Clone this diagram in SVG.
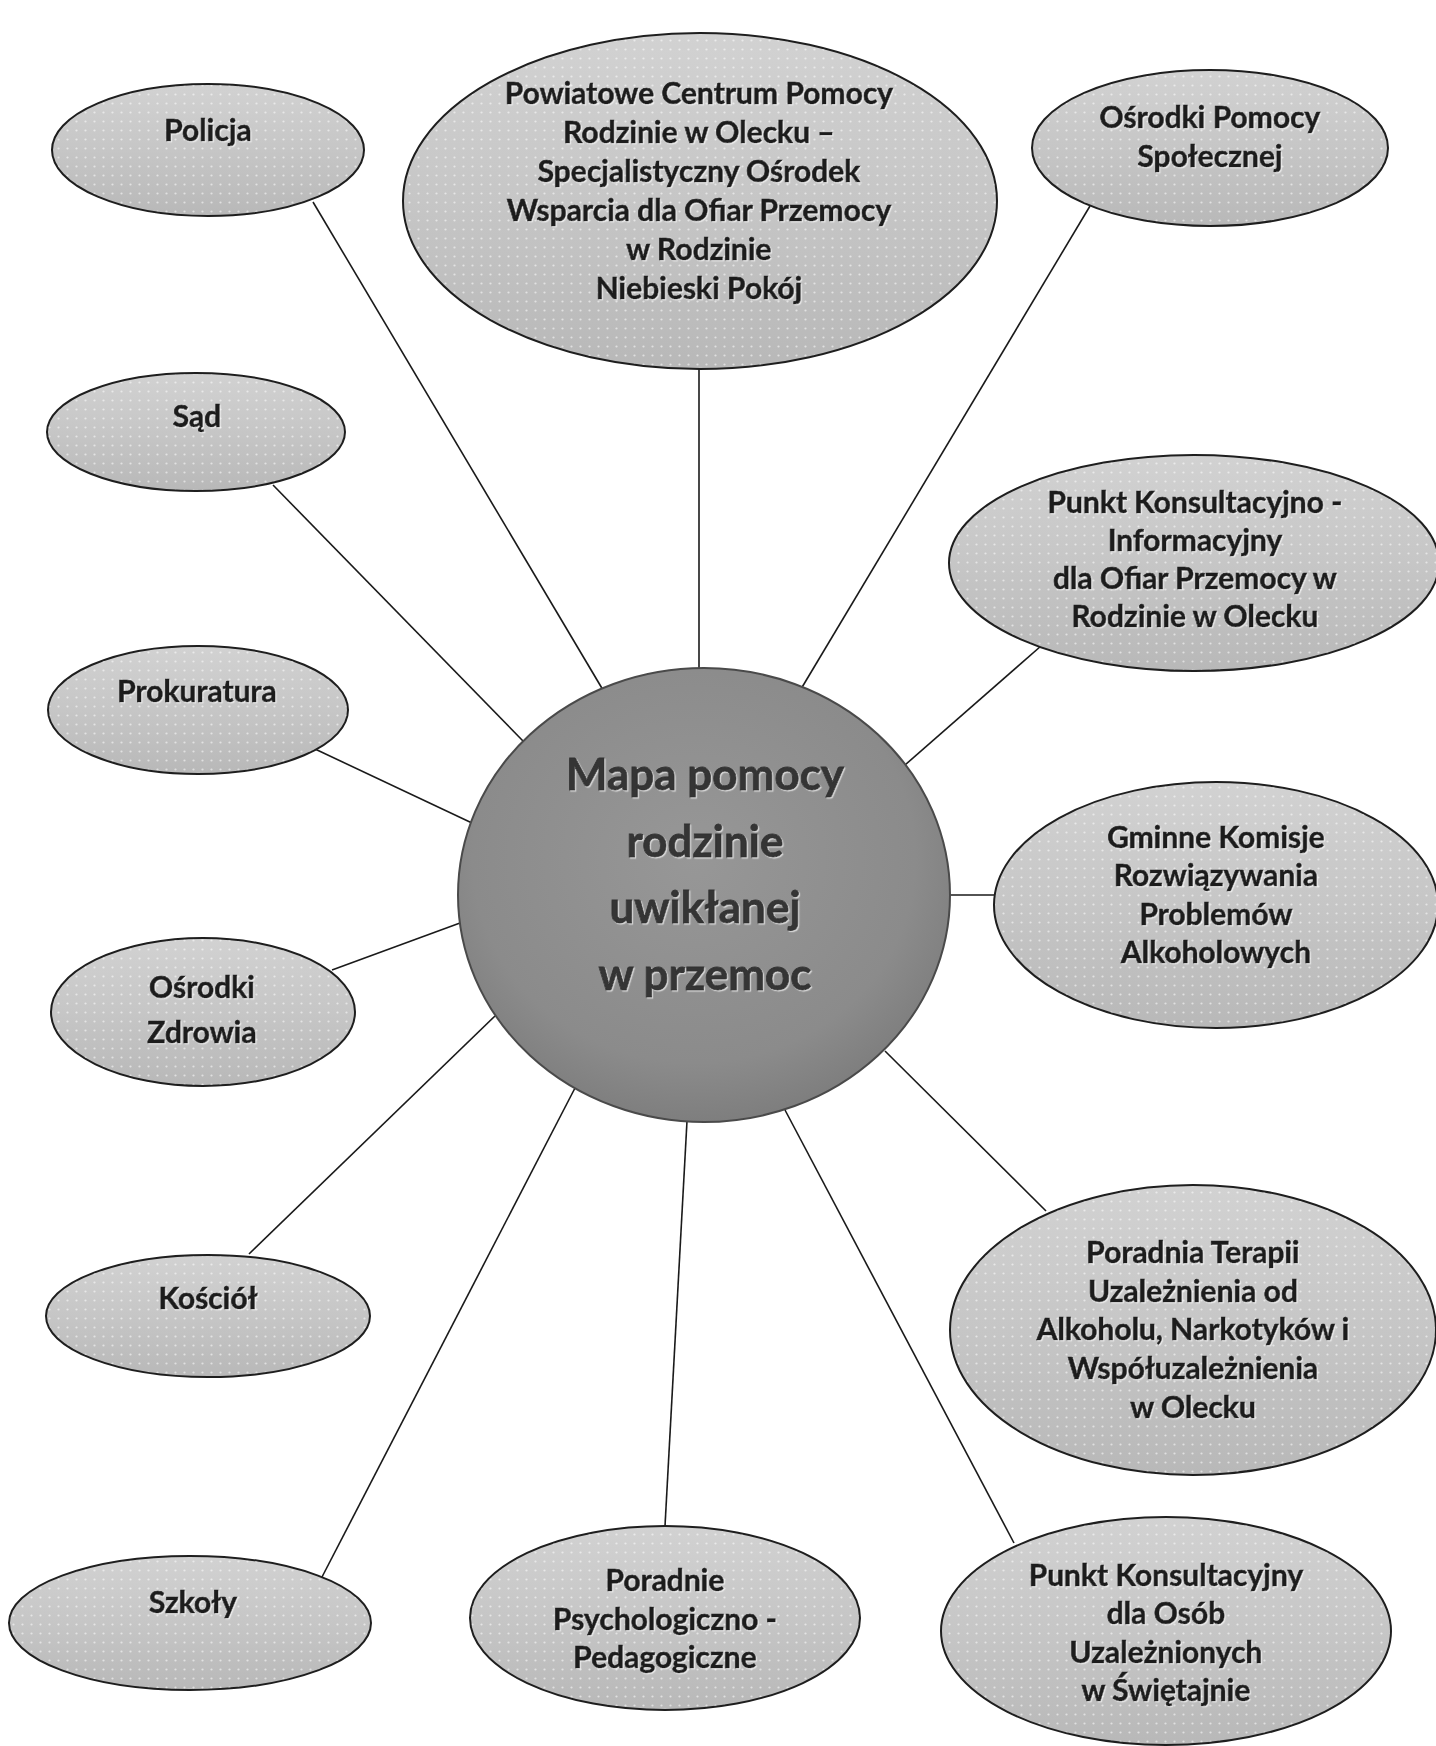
<svg xmlns="http://www.w3.org/2000/svg" width="1436" height="1746" viewBox="0 0 1436 1746">
<defs>
<linearGradient id="nodeFill" x1="0" y1="0" x2="0" y2="1">
<stop offset="0" stop-color="#d2d2d2"/>
<stop offset="0.5" stop-color="#c6c6c6"/>
<stop offset="1" stop-color="#b8b8b8"/>
</linearGradient>
<radialGradient id="hubFill" cx="0.48" cy="0.42" r="0.6">
<stop offset="0" stop-color="#979797"/>
<stop offset="0.75" stop-color="#8b8b8b"/>
<stop offset="1" stop-color="#7c7c7c"/>
</radialGradient>
<pattern id="dots" width="9" height="9" patternUnits="userSpaceOnUse">
<circle cx="4.5" cy="4.5" r="1.1" fill="#ffffff" fill-opacity="0.55"/>
</pattern>
<filter id="glow" x="-5%" y="-20%" width="110%" height="140%">
<feDropShadow dx="1.2" dy="1.2" stdDeviation="0.6" flood-color="#ffffff" flood-opacity="0.6"/>
</filter>
</defs>
<style>
.n{fill:url(#nodeFill);stroke:#1e1e1e;stroke-width:2}
.d{fill:url(#dots);stroke:none}
.t{font-family:Lato,"Liberation Sans",sans-serif;font-weight:700;font-size:30px;fill:#1c1c1c;stroke:#1c1c1c;stroke-width:0.6;text-anchor:middle;filter:url(#glow)}
.hub{fill:url(#hubFill);stroke:#4a4a4a;stroke-width:2}
.ht{font-family:Lato,"Liberation Sans",sans-serif;font-weight:700;font-size:44px;fill:#343434;stroke:#343434;stroke-width:0.8;text-anchor:middle;filter:url(#glow)}
.c{stroke:#1a1a1a;stroke-width:1.6;fill:none}
</style>
<rect width="1436" height="1746" fill="#ffffff"/>
<g id="connectors">
<line class="c" x1="313" y1="202" x2="603" y2="690"/>
<line class="c" x1="699" y1="369" x2="699" y2="669"/>
<line class="c" x1="1090" y1="206" x2="801" y2="689"/>
<line class="c" x1="273" y1="485" x2="523" y2="741"/>
<line class="c" x1="1041" y1="646" x2="905" y2="765"/>
<line class="c" x1="315" y1="749" x2="472" y2="823"/>
<line class="c" x1="950" y1="895" x2="995" y2="895"/>
<line class="c" x1="332" y1="970" x2="460" y2="923"/>
<line class="c" x1="249" y1="1254" x2="495" y2="1016"/>
<line class="c" x1="885" y1="1051" x2="1046" y2="1211"/>
<line class="c" x1="322" y1="1577" x2="575" y2="1088"/>
<line class="c" x1="665" y1="1526" x2="687" y2="1121"/>
<line class="c" x1="1014" y1="1543" x2="785" y2="1110"/>
</g>
<g id="hub">
<ellipse class="hub" cx="704" cy="895" rx="246" ry="227"/>
<text class="ht"><tspan x="705" y="790">Mapa pomocy</tspan><tspan x="705" y="857">rodzinie</tspan><tspan x="705" y="923">uwikłanej</tspan><tspan x="705" y="990">w przemoc</tspan></text>
</g>
<g id="policja">
<ellipse class="n" cx="208" cy="150" rx="156" ry="66"/>
<ellipse class="d" cx="208" cy="150" rx="155" ry="65"/>
<text class="t" x="208" y="141">Policja</text>
</g>
<g id="pcpr">
<ellipse class="n" cx="700" cy="201" rx="297" ry="168"/>
<ellipse class="d" cx="700" cy="201" rx="296" ry="167"/>
<text class="t"><tspan x="699" y="104">Powiatowe Centrum Pomocy</tspan><tspan x="699" y="143">Rodzinie w Olecku –</tspan><tspan x="699" y="182">Specjalistyczny Ośrodek</tspan><tspan x="699" y="221">Wsparcia dla Ofiar Przemocy</tspan><tspan x="699" y="260">w Rodzinie</tspan><tspan x="699" y="299">Niebieski Pokój</tspan></text>
</g>
<g id="ops">
<ellipse class="n" cx="1210" cy="148" rx="178" ry="78"/>
<ellipse class="d" cx="1210" cy="148" rx="177" ry="77"/>
<text class="t"><tspan x="1210" y="128">Ośrodki Pomocy</tspan><tspan x="1210" y="167">Społecznej</tspan></text>
</g>
<g id="sad">
<ellipse class="n" cx="196" cy="432" rx="149" ry="59"/>
<ellipse class="d" cx="196" cy="432" rx="148" ry="58"/>
<text class="t" x="197" y="427">Sąd</text>
</g>
<g id="punkt-informacyjny">
<ellipse class="n" cx="1194" cy="563" rx="245" ry="108"/>
<ellipse class="d" cx="1194" cy="563" rx="244" ry="107"/>
<text class="t"><tspan x="1195" y="513">Punkt Konsultacyjno -</tspan><tspan x="1195" y="551">Informacyjny</tspan><tspan x="1195" y="589">dla Ofiar Przemocy w</tspan><tspan x="1195" y="627">Rodzinie w Olecku</tspan></text>
</g>
<g id="prokuratura">
<ellipse class="n" cx="198" cy="710" rx="150" ry="64"/>
<ellipse class="d" cx="198" cy="710" rx="149" ry="63"/>
<text class="t" x="197" y="702">Prokuratura</text>
</g>
<g id="gminne">
<ellipse class="n" cx="1216" cy="905" rx="222" ry="123"/>
<ellipse class="d" cx="1216" cy="905" rx="221" ry="122"/>
<text class="t"><tspan x="1216" y="848">Gminne Komisje</tspan><tspan x="1216" y="886">Rozwiązywania</tspan><tspan x="1216" y="925">Problemów</tspan><tspan x="1216" y="963">Alkoholowych</tspan></text>
</g>
<g id="osrodki-zdrowia">
<ellipse class="n" cx="203" cy="1012" rx="152" ry="74"/>
<ellipse class="d" cx="203" cy="1012" rx="151" ry="73"/>
<text class="t"><tspan x="202" y="998">Ośrodki</tspan><tspan x="202" y="1043">Zdrowia</tspan></text>
</g>
<g id="kosciol">
<ellipse class="n" cx="208" cy="1316" rx="162" ry="61"/>
<ellipse class="d" cx="208" cy="1316" rx="161" ry="60"/>
<text class="t" x="208" y="1309">Kościół</text>
</g>
<g id="poradnia-terapii">
<ellipse class="n" cx="1193" cy="1330" rx="243" ry="145"/>
<ellipse class="d" cx="1193" cy="1330" rx="242" ry="144"/>
<text class="t"><tspan x="1193" y="1263">Poradnia Terapii</tspan><tspan x="1193" y="1302">Uzależnienia od</tspan><tspan x="1193" y="1340">Alkoholu, Narkotyków i</tspan><tspan x="1193" y="1379">Współuzależnienia</tspan><tspan x="1193" y="1418">w Olecku</tspan></text>
</g>
<g id="szkoly">
<ellipse class="n" cx="190" cy="1623" rx="181" ry="67"/>
<ellipse class="d" cx="190" cy="1623" rx="180" ry="66"/>
<text class="t" x="193" y="1613">Szkoły</text>
</g>
<g id="poradnie">
<ellipse class="n" cx="665" cy="1618" rx="195" ry="92"/>
<ellipse class="d" cx="665" cy="1618" rx="194" ry="91"/>
<text class="t"><tspan x="665" y="1591">Poradnie</tspan><tspan x="665" y="1630">Psychologiczno -</tspan><tspan x="665" y="1668">Pedagogiczne</tspan></text>
</g>
<g id="punkt-konsultacyjny">
<ellipse class="n" cx="1166" cy="1631" rx="225" ry="114"/>
<ellipse class="d" cx="1166" cy="1631" rx="224" ry="113"/>
<text class="t"><tspan x="1166" y="1586">Punkt Konsultacyjny</tspan><tspan x="1166" y="1624">dla Osób</tspan><tspan x="1166" y="1663">Uzależnionych</tspan><tspan x="1166" y="1701">w Świętajnie</tspan></text>
</g>
</svg>
